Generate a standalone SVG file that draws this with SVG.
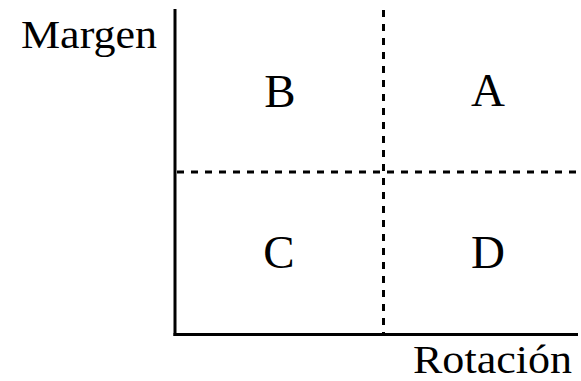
<svg xmlns="http://www.w3.org/2000/svg" width="581" height="381" viewBox="0 0 581 381">
<style>
.axis{stroke:#000;stroke-width:3;fill:none}
.dash{stroke:#000;stroke-width:3;fill:none;stroke-dasharray:7,7}
</style>
<rect width="581" height="381" fill="#fff"/>
<g id="connectors">
<line class="dash" x1="383.5" y1="10" x2="383.5" y2="333"/>
<line class="dash" x1="177" y1="172" x2="578" y2="172"/>
<line class="axis" x1="175" y1="9" x2="175" y2="336"/>
<line class="axis" x1="173.5" y1="334.5" x2="578" y2="334.5"/>
</g>
<g font-family="Liberation Serif, Times New Roman, serif" fill="#000">
<g id="label-margen"><text font-size="40" x="21" y="48" textLength="136" lengthAdjust="spacingAndGlyphs">Margen</text></g>
<g id="label-rotacion"><text font-size="40" x="413" y="373" textLength="159" lengthAdjust="spacingAndGlyphs">Rotación</text></g>
<g id="node-B"><text font-size="47" text-anchor="middle" x="280" y="107">B</text></g>
<g id="node-A"><text font-size="47" text-anchor="middle" x="488" y="106">A</text></g>
<g id="node-C"><text font-size="47" text-anchor="middle" x="279" y="268">C</text></g>
<g id="node-D"><text font-size="47" text-anchor="middle" x="488" y="268">D</text></g>
</g>
</svg>
